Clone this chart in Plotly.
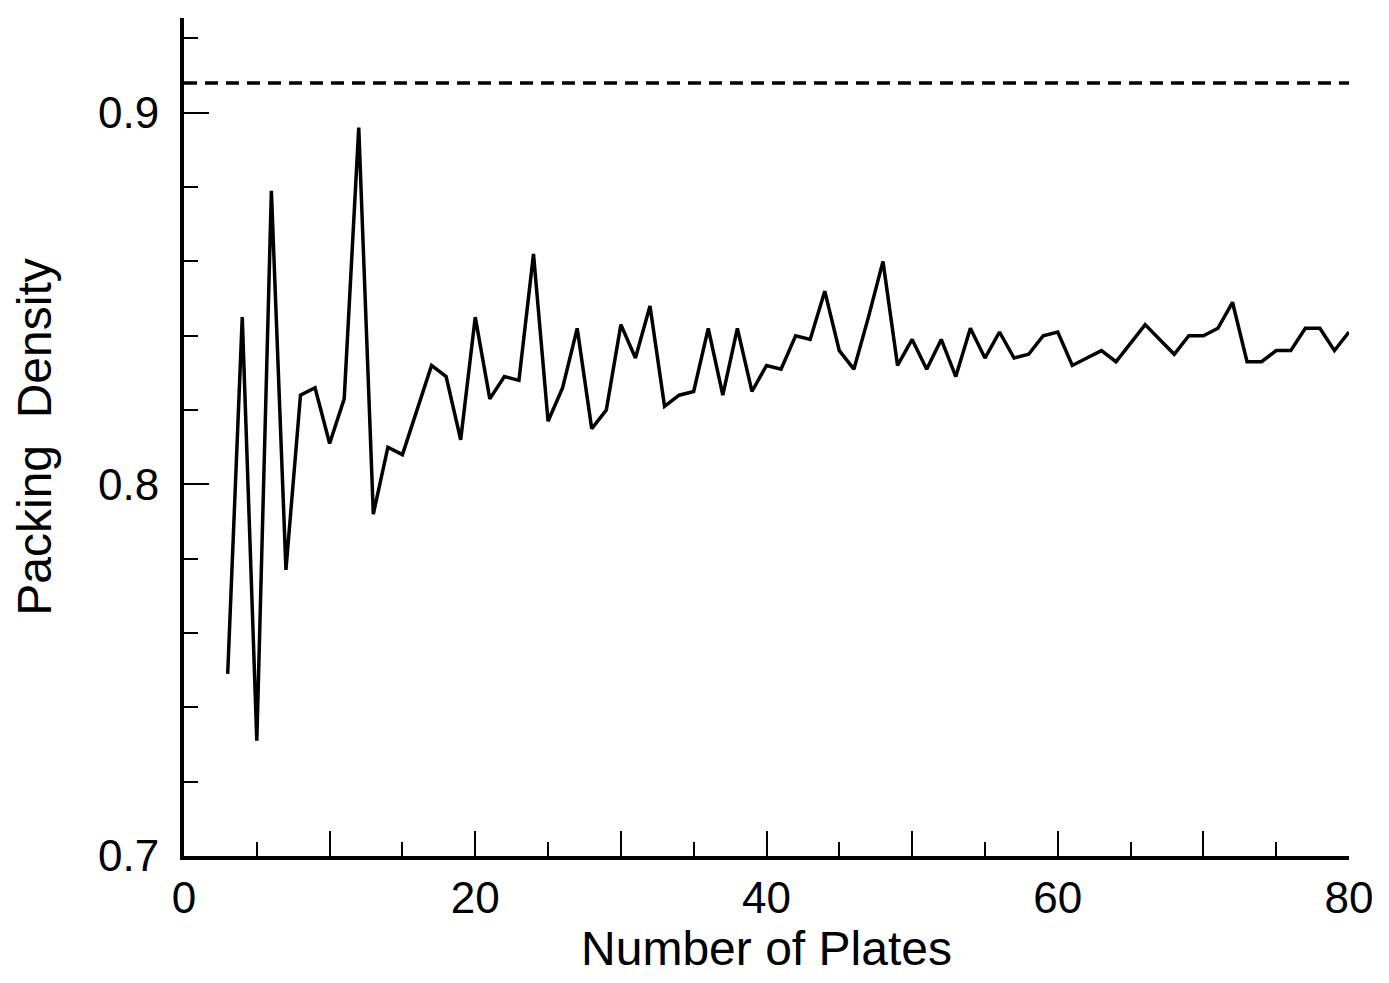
import plotly.graph_objects as go

# ---- data ----
plates = list(range(3, 81))
density = [
    0.749, 0.845, 0.731, 0.879, 0.777, 0.824, 0.826, 0.811, 0.823, 0.896,   # 3-12
    0.792, 0.810, 0.808, 0.820, 0.832, 0.829, 0.812, 0.845, 0.823, 0.829,   # 13-22
    0.828, 0.862, 0.817, 0.826, 0.842, 0.815, 0.820, 0.843, 0.834, 0.848,   # 23-32
    0.821, 0.824, 0.825, 0.842, 0.824, 0.842, 0.825, 0.832, 0.831, 0.840,   # 33-42
    0.839, 0.852, 0.836, 0.831, 0.845, 0.860, 0.832, 0.839, 0.831, 0.839,   # 43-52
    0.829, 0.842, 0.834, 0.841, 0.834, 0.835, 0.840, 0.841, 0.832, 0.834,   # 53-62
    0.836, 0.833, 0.838, 0.843, 0.839, 0.835, 0.840, 0.840, 0.842, 0.849,   # 63-72
    0.833, 0.833, 0.836, 0.836, 0.842, 0.842, 0.836, 0.841,                 # 73-80
]
limit_x = [0, 80]
limit_y = [0.908, 0.908]

x_tickvals = [0, 10, 20, 30, 40, 50, 60, 70, 80]
x_ticktext = ["0", "", "20", "", "40", "", "60", "", "80"]
y_tickvals = [0.7, 0.8, 0.9]
y_ticktext = ["0.7", "0.8", "0.9"]

FONT = "Liberation Sans, Arial, Helvetica, sans-serif"

fig = go.Figure()
fig.add_trace(go.Scatter(
    x=limit_x, y=limit_y, mode="lines",
    line=dict(color="black", width=3.5, dash="13px,8px"),
    showlegend=False, hoverinfo="skip",
))
fig.add_trace(go.Scatter(
    x=plates, y=density, mode="lines",
    line=dict(color="black", width=3.5),
    showlegend=False,
))

fig.update_layout(
    width=1389, height=983,
    margin=dict(l=176, r=48, t=10, b=135),
    paper_bgcolor="white", plot_bgcolor="white",
    font=dict(family=FONT, color="black"),
    xaxis=dict(
        range=[0, 80],
        tickmode="array", tickvals=x_tickvals, ticktext=x_ticktext,
        ticks="inside", ticklen=25, tickwidth=2, tickcolor="black",
        minor=dict(dtick=5, tick0=0, ticks="inside", ticklen=14, tickwidth=2, tickcolor="black"),
        showline=True, linewidth=4, linecolor="black",
        showgrid=False, zeroline=False,
        tickfont=dict(size=44, family=FONT),
        ticklabelstandoff=0,
        title=dict(text="Number of Plates", font=dict(size=48, family=FONT), standoff=4),
    ),
    yaxis=dict(
        range=[0.7, 0.9255],
        tickmode="array", tickvals=y_tickvals, ticktext=y_ticktext,
        ticks="inside", ticklen=25, tickwidth=2, tickcolor="black",
        minor=dict(dtick=0.02, tick0=0.7, ticks="inside", ticklen=14, tickwidth=2, tickcolor="black"),
        showline=True, linewidth=4, linecolor="black",
        showgrid=False, zeroline=False,
        tickfont=dict(size=44, family=FONT),
        ticklabelstandoff=12,
        title=dict(text="Packing\u00a0\u00a0Density", font=dict(size=48, family=FONT), standoff=34),
    ),
)

fig.write_html("out.html")
